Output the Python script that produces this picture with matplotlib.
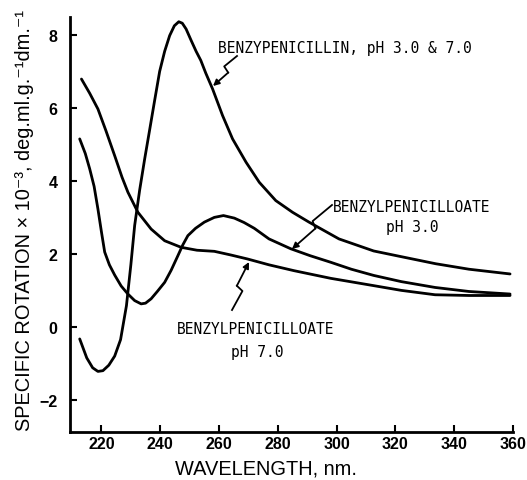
import matplotlib
matplotlib.use("Agg")
import matplotlib.pyplot as plt
import numpy as np

# wavelength (nm) / specific rotation x 10^-3
pen_wl = [212.6, 215, 217, 218.8, 220.5, 222.5, 224.5, 226.5, 228.5, 230, 231.3,
          233, 234.7, 236.4, 238, 239.8, 241.5, 243.2, 244.8, 246.3, 247.5, 248.8,
          250.5, 252.2, 253.8, 255.5, 257.8, 261.2, 264.6, 269.2, 273.7, 279.3,
          285, 290.6, 300.8, 312.6, 321, 333.7, 345, 359]
pen_rot = [-0.33, -0.85, -1.12, -1.22, -1.2, -1.05, -0.8, -0.35, 0.58, 1.7, 2.78,
           3.75, 4.6, 5.4, 6.16, 7.0, 7.55, 7.98, 8.25, 8.36, 8.32, 8.16,
           7.85, 7.55, 7.3, 6.95, 6.52, 5.79, 5.15, 4.51, 3.96, 3.46,
           3.14, 2.87, 2.41, 2.08, 1.94, 1.73, 1.58, 1.45]

ph3_wl = [212.6, 214.5, 216, 217.5, 218.8, 220, 221.1, 222.7, 224.5, 226.7, 229,
          231.3, 233.5, 235, 236.9, 239, 241.5, 243.7, 246, 247.7, 249.4, 252,
          255, 258.4, 261.5, 265.2, 268.5, 272, 277, 284.4, 291, 298, 305, 312.6,
          322, 333.5, 345, 359]
ph3_rot = [5.15, 4.75, 4.33, 3.85, 3.23, 2.6, 2.05, 1.7, 1.42, 1.12, 0.9,
           0.72, 0.63, 0.65, 0.77, 0.97, 1.22, 1.55, 1.95, 2.25, 2.5, 2.7,
           2.87, 3.0, 3.05, 2.98, 2.86, 2.7, 2.41, 2.14, 1.95, 1.77, 1.58, 1.41,
           1.24, 1.08, 0.97, 0.9]

ph7_wl = [213.2, 216, 218.8, 221.5, 224.5, 227, 229, 232.4, 236.9, 241.5, 247.1,
          252.5, 258.4, 264, 269.7, 277, 285.5, 298, 312.6, 322, 333.5, 345, 359]
ph7_rot = [6.79, 6.4, 5.97, 5.38, 4.69, 4.1, 3.69, 3.14, 2.68, 2.36, 2.18,
           2.1, 2.07, 1.97, 1.86, 1.7, 1.54, 1.33, 1.13, 1.0, 0.88, 0.86, 0.86]

x_ticks = [220, 240, 260, 280, 300, 320, 340, 360]
y_ticks = [-2, 0, 2, 4, 6, 8]

label_font = ['DejaVu Sans Mono']
tick_font = ['Liberation Sans', 'DejaVu Sans']
axis_font = ['Liberation Sans', 'DejaVu Sans']

fig = plt.figure(figsize=(5.27, 4.81), dpi=100)
ax = fig.add_axes([70 / 527, 1 - 433 / 481, 443 / 527, 415 / 481])

for wl, rot in [(pen_wl, pen_rot), (ph3_wl, ph3_rot), (ph7_wl, ph7_rot)]:
    ax.plot(wl, rot, color='black', linewidth=2.0, solid_capstyle='round',
            solid_joinstyle='round')

ax.set_xlim(209.3, 360)
ax.set_ylim(-2.88, 8.49)
ax.set_xticks(x_ticks)
ax.set_yticks(y_ticks)
ax.set_yticklabels(['\u22122', '0', '2', '4', '6', '8'])

for side in ['top', 'right']:
    ax.spines[side].set_visible(False)
for side in ['left', 'bottom']:
    ax.spines[side].set_linewidth(2.0)

ax.tick_params(axis='both', direction='in', length=5, width=1.5)
ax.tick_params(axis='x', pad=3)
ax.tick_params(axis='y', pad=9)
for lab in ax.get_xticklabels() + ax.get_yticklabels():
    lab.set_fontfamily(tick_font)
    lab.set_fontweight('bold')
    lab.set_fontsize(11.5)

ax.set_xlabel('WAVELENGTH, nm.', fontfamily=axis_font, fontsize=14.4)
ax.xaxis.set_label_coords(0.442, -0.064)
ax.set_ylabel('SPECIFIC ROTATION \u00d7 10\u207b\u00b3, deg.ml.g.\u207b\u00b9dm.\u207b\u00b9',
              fontfamily=axis_font, fontsize=14.4)
ax.yaxis.set_label_coords(-0.082, 0.513)


def px(x, y):
    # figure pixel position (from top-left) -> data coords
    disp = fig.transFigure.transform((x / 527, 1 - y / 481))
    return ax.transData.inverted().transform(disp)


def zigzag(start, end):
    x0, y0 = start
    x1, y1 = end
    dx, dy = x1 - x0, y1 - y0
    n = np.hypot(dx, dy)
    ux, uy = dx / n, dy / n
    pxv, pyv = -uy, ux
    a = (x0 + 0.42 * dx + 3.5 * pxv, y0 + 0.42 * dy + 3.5 * pyv)
    b = (x0 + 0.48 * dx - 3.5 * pxv, y0 + 0.48 * dy - 3.5 * pyv)
    pts = [px(*start), px(*a), px(*b)]
    ax.plot([p[0] for p in pts], [p[1] for p in pts], color='black', linewidth=1.3)
    ax.annotate('', xy=px(*end), xytext=px(*b),
                arrowprops=dict(arrowstyle='-|>', color='black', lw=1.3,
                                mutation_scale=9, shrinkA=0, shrinkB=0))


ax.text(*px(218, 48), 'BENZYPENICILLIN, pH 3.0 & 7.0', fontfamily=label_font,
        fontsize=10.5, ha='left', va='center')
zigzag((237, 57), (213, 87))

ax.text(*px(412, 207), 'BENZYLPENICILLOATE', fontfamily=label_font,
        fontsize=10.5, ha='center', va='center')
ax.text(*px(412, 228), 'pH 3.0', fontfamily=label_font,
        fontsize=10.5, ha='center', va='center')
zigzag((332, 206), (292, 250))

ax.text(*px(256, 330), 'BENZYLPENICILLOATE', fontfamily=label_font,
        fontsize=10.5, ha='center', va='center')
ax.text(*px(257, 353), 'pH 7.0', fontfamily=label_font,
        fontsize=10.5, ha='center', va='center')
zigzag((232, 311), (249, 263))

fig.savefig('out.png', dpi=100)
